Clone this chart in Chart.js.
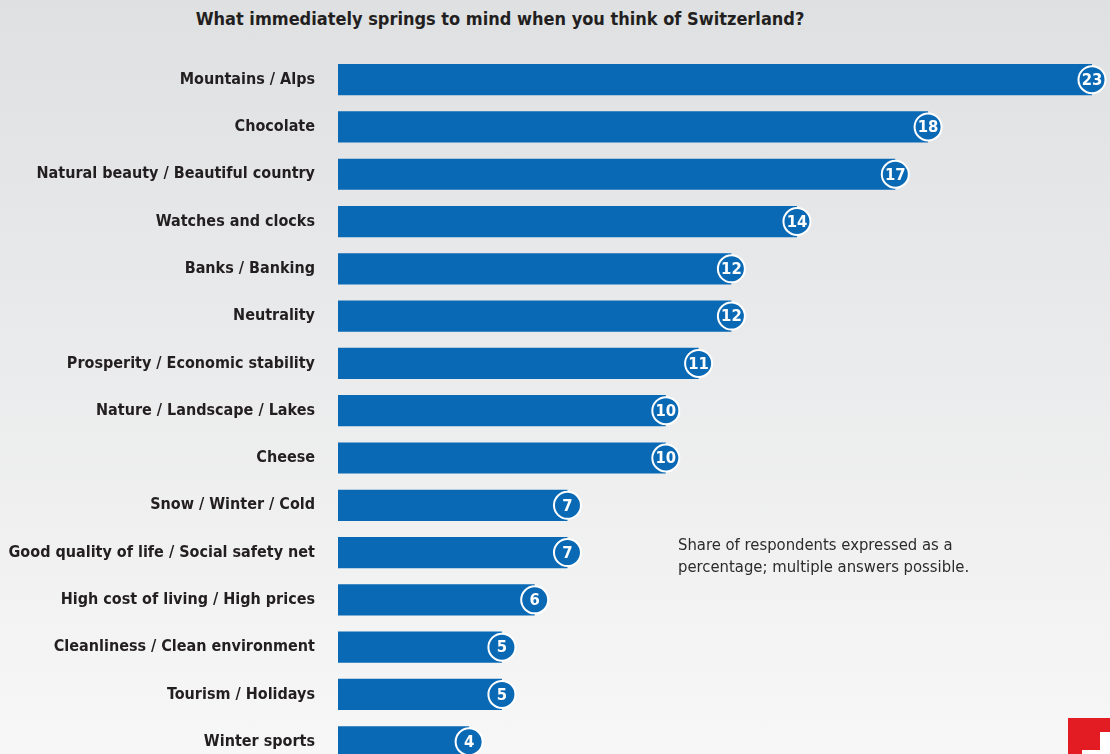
<!DOCTYPE html>
<html>
<head>
<meta charset="utf-8">
<script src="https://cdn.jsdelivr.net/npm/chart.js@4.4.0/dist/chart.umd.min.js"></script>
<style>
  html, body { margin: 0; padding: 0; }
  body {
    width: 1110px; height: 754px; overflow: hidden; position: relative;
    background: linear-gradient(#dfe0e2, #f7f7f7);
    font-family: 'DejaVu Sans Condensed', 'Liberation Sans', sans-serif;
  }
  #wrap { position: absolute; left: 0; top: 0; width: 1110px; height: 790px; }
  .title {
    position: absolute; left: 0; width: 1000px; top: 8px; text-align: center;
    font-weight: bold; font-size: 18px; color: #231f20;
  }
  .note {
    position: absolute; left: 678px; top: 534px; font-size: 16.5px; line-height: 22px; color: #2b2b2b;
  }
  .logo { position: absolute; left: 1068px; top: 718px; width: 42px; height: 36px; background: #e31b23; }
  .logo .h { position: absolute; left: 32px; top: 14px; width: 10px; height: 22px; background: #fff; }
  .logo .v { position: absolute; left: 14px; top: 32px; width: 28px; height: 4px; background: #fff; }
</style>
</head>
<body>
<div class="title">What immediately springs to mind when you think of Switzerland?</div>
<div id="wrap"><canvas id="chart" width="1110" height="790"></canvas></div>
<div class="note">Share of respondents expressed as a<br>percentage; multiple answers possible.</div>
<div class="logo"><div class="h"></div><div class="v"></div></div>
<script>
const categories = [
  'Mountains / Alps',
  'Chocolate',
  'Natural beauty / Beautiful country',
  'Watches and clocks',
  'Banks / Banking',
  'Neutrality',
  'Prosperity / Economic stability',
  'Nature / Landscape / Lakes',
  'Cheese',
  'Snow / Winter / Cold',
  'Good quality of life / Social safety net',
  'High cost of living / High prices',
  'Cleanliness / Clean environment',
  'Tourism / Holidays',
  'Winter sports'
];
const values = [23, 18, 17, 14, 12, 12, 11, 10, 10, 7, 7, 6, 5, 5, 4];

const blue = '#0a69b5';
const fontFamily = "'DejaVu Sans Condensed', 'Liberation Sans', sans-serif";

// round value badges at the end of each bar
const badges = {
  id: 'badges',
  afterDatasetsDraw(chart) {
    const ctx = chart.ctx;
    const meta = chart.getDatasetMeta(0);
    ctx.save();
    meta.data.forEach((bar, i) => {
      ctx.beginPath();
      ctx.arc(bar.x, bar.y, 13.5, 0, Math.PI * 2);
      ctx.fillStyle = blue;
      ctx.fill();
      ctx.lineWidth = 2;
      ctx.strokeStyle = '#ffffff';
      ctx.stroke();
      ctx.fillStyle = '#ffffff';
      ctx.font = 'bold 16.5px ' + fontFamily;
      ctx.textAlign = 'center';
      ctx.textBaseline = 'middle';
      ctx.fillText(String(values[i]), bar.x, bar.y + 1);
    });
    ctx.restore();
  }
};

new Chart(document.getElementById('chart'), {
  type: 'bar',
  data: {
    labels: categories,
    datasets: [{
      data: values,
      backgroundColor: blue,
      borderWidth: 0,
      categoryPercentage: 1,
      barPercentage: 0.66
    }]
  },
  options: {
    indexAxis: 'y',
    responsive: false,
    animation: false,
    layout: { padding: { top: 56, right: 18, bottom: 0, left: 0 } },
    plugins: {
      legend: { display: false },
      tooltip: { enabled: false }
    },
    scales: {
      x: { display: false, min: 0, max: 23 },
      y: {
        grid: { display: false },
        border: { display: false },
        ticks: {
          padding: 15,
          color: '#231f20',
          font: { family: fontFamily, size: 16, weight: 'bold' }
        },
        afterFit(scale) { scale.width = 338; }
      }
    }
  },
  plugins: [badges]
});
</script>
</body>
</html>
